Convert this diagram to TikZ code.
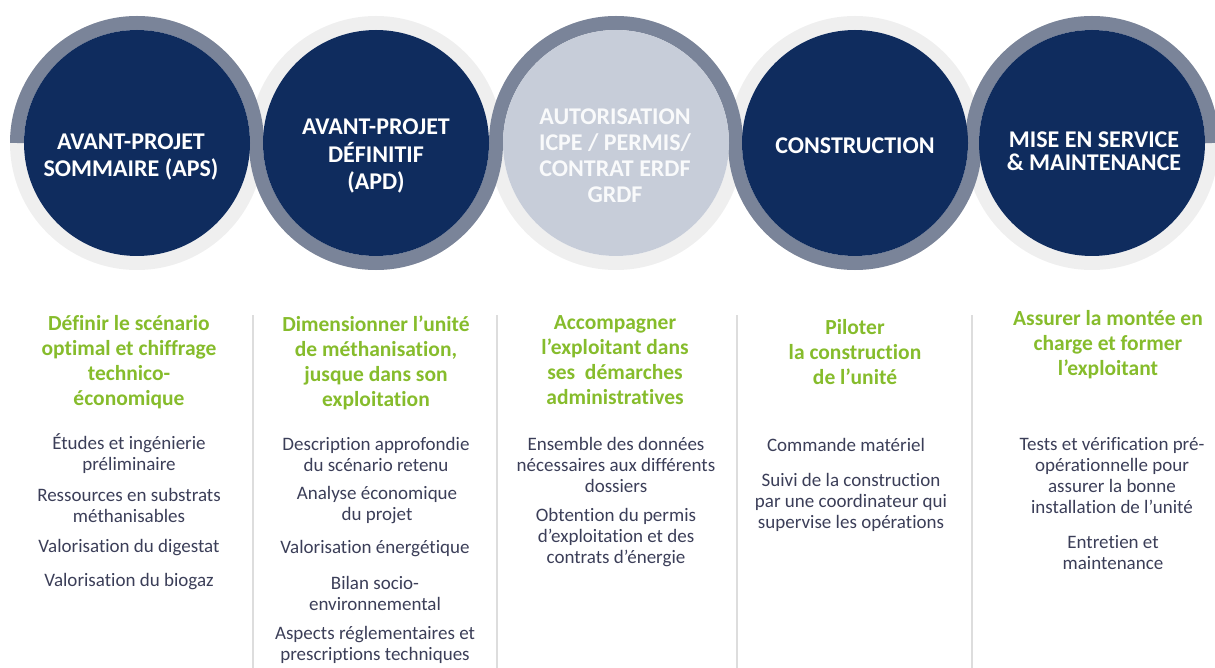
\documentclass[tikz,border=0pt]{standalone}
\usepackage{fontspec}
\setmainfont{Carlito}[Ligatures=NoCommon]
\definecolor{navy}{HTML}{0F2C5E}
\definecolor{paleblue}{HTML}{C7CDD9}
\definecolor{ringgray}{HTML}{7A8499}
\definecolor{ringlight}{HTML}{EFEFEF}
\definecolor{leaf}{HTML}{86BC2C}
\definecolor{ink}{HTML}{3B3E58}
\definecolor{divgray}{HTML}{DDDDDD}
\begin{document}
\begin{tikzpicture}[x=1pt,y=1pt,
  lightring/.style={draw=ringlight, line width=14pt},
  darkring/.style={draw=ringgray, line width=14pt},
  disc/.style={circle, fill=navy, minimum size=226pt, inner sep=0pt},
  head/.style={text=white, font=\fontsize{24}{27.5}\selectfont\bfseries, align=center, inner sep=0pt},
  title/.style={text=leaf, font=\fontsize{21.5}{25}\selectfont\bfseries, align=center, inner sep=0pt},
  body/.style={text=ink, font=\fontsize{19}{21}\selectfont, align=center, inner sep=0pt},
  divider/.style={draw=divgray, line width=1.5pt}]
\useasboundingbox (0,0) rectangle (1215,-668);
\clip (0,0) rectangle (1215,-668);

% pale full rings behind every stage
\foreach \cx in {137,376,616,855,1092}
  \draw[lightring] (\cx,-143) circle[radius=120];

% grey half rings forming the wave
\draw[darkring] (17,-143) arc[start angle=180, end angle=0, radius=120];
\draw[darkring] (256,-143) arc[start angle=180, end angle=360, radius=120];
\draw[darkring] (496,-143) arc[start angle=180, end angle=0, radius=120];
\draw[darkring] (735,-143) arc[start angle=180, end angle=360, radius=120];
\draw[darkring] (972,-143) arc[start angle=180, end angle=0, radius=120];

% stage discs
\node[disc] (d1) at (137,-143) {};
\node[disc] (d2) at (376,-143) {};
\node[disc, fill=paleblue] (d3) at (616,-143) {};
\node[disc] (d4) at (855,-143) {};
\node[disc] (d5) at (1092,-143) {};

\node[head] (h1) at (131,-157) {AVANT-PROJET\\SOMMAIRE (APS)};
\node[head] (h2) at (376,-156) {AVANT-PROJET\\DÉFINITIF\\(APD)};
\node[head, text=white!90!paleblue, font=\fontsize{24}{26}\selectfont\bfseries] (h3) at (615,-156) {AUTORISATION\\ICPE / PERMIS/\\CONTRAT ERDF\\GRDF};
\node[head] (h4) at (855,-146) {CONSTRUCTION};
\node[head, font=\fontsize{24}{23.5}\selectfont\bfseries] (h5) at (1094,-151) {MISE EN SERVICE\\\& MAINTENANCE};

% column separators
\draw[divider] (253,-315) -- (253,-668);
\draw[divider] (497,-315) -- (497,-668);
\draw[divider] (737,-315) -- (737,-668);
\draw[divider] (972,-315) -- (972,-668);

% column 1
\node[title] (t1) at (129,-362) {Définir le scénario\\optimal et chiffrage\\technico-\\économique};
\node[body] (b11) at (129,-454) {Études et ingénierie\\préliminaire};
\node[body] (b12) at (129,-505.5) {Ressources en substrats\\méthanisables};
\node[body] (b13) at (129,-548) {Valorisation du digestat};
\node[body] (b14) at (129,-582) {Valorisation du biogaz};

% column 2
\node[title] (t2) at (376,-362.5) {Dimensionner l’unité\\de méthanisation,\\jusque dans son\\exploitation};
\node[body] (b21) at (376,-454) {Description approfondie\\du scénario retenu};
\node[body] (b22) at (377,-505) {Analyse économique\\du projet};
\node[body] (b23) at (375,-549) {Valorisation énergétique};
\node[body] (b24) at (375,-593) {Bilan socio-\\environnemental};
\node[body] (b25) at (375,-644.5) {Aspects réglementaires et\\prescriptions techniques};

% column 3
\node[title] (t3) at (615,-360) {Accompagner\\l’exploitant dans\\ses\ \ démarches\\administratives};
\node[body] (b31) at (616,-464.5) {Ensemble des données\\nécessaires aux différents\\dossiers};
\node[body] (b32) at (616,-538) {Obtention du permis\\d’exploitation et des\\contrats d’énergie};

% column 4
\node[title] (t4) at (855,-352) {Piloter\\la construction\\de l’unité};
\node[body] (b41) at (846,-445) {Commande matériel};
\node[body] (b42) at (851,-502.5) {Suivi de la construction\\par une coordinateur qui\\supervise les opérations};

% column 5
\node[title] (t5) at (1108,-345) {Assurer la montée en\\charge et former\\l’exploitant};
\node[body] (b51) at (1112,-475.5) {Tests et vérification pré-\\opérationnelle pour\\assurer la bonne\\installation de l’unité};
\node[body] (b52) at (1113,-553) {Entretien et\\maintenance};
\end{tikzpicture}
\end{document}
